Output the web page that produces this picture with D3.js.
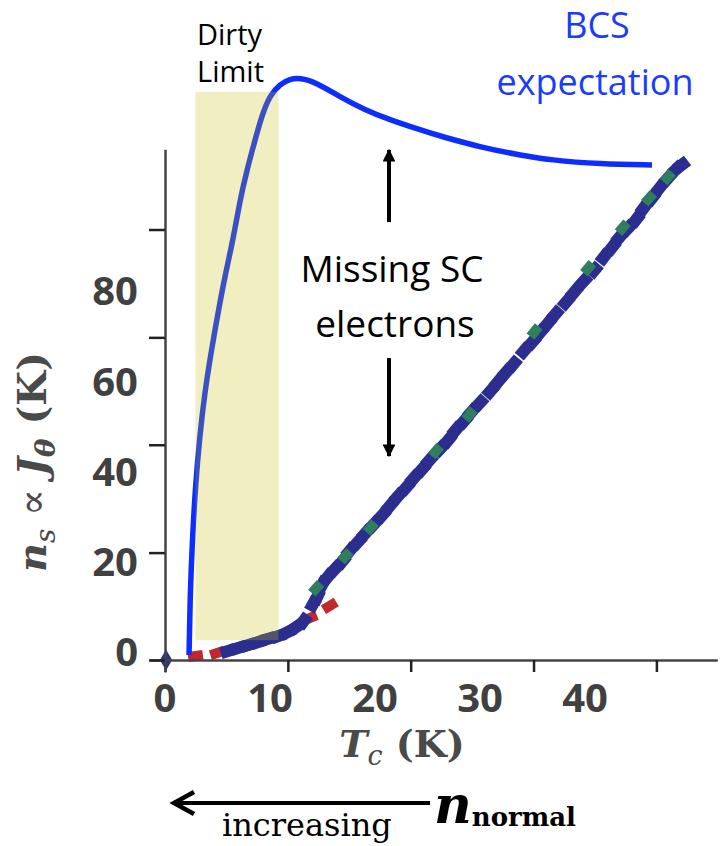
<!DOCTYPE html>
<html>
<head>
<meta charset="UTF-8">
<title>Superfluid density vs Tc</title>
<script src="https://d3js.org/d3.v7.min.js"></script>
<style>
  body { margin: 0; background: #fff; }
  svg { display: block; }
</style>
</head>
<body>
<div id="chart"></div>
<script>
// tick labels (overlay) and the original plot's unlabelled tick marks
const xLabels = [0, 10, 20, 30, 40];
const yLabels = [0, 20, 40, 60, 80];
const xTickMarks = [0, 11.7, 23.4, 35.1, 46.8];
const yTickMarks = [0, 23.8, 47.7, 71.5, 95.4];

// measured data, Tc (K) and ns (K)
const blueTc = [0.1, 6.0, 7.0, 7.9, 8.9, 9.8, 10.8, 11.7, 12.5, 13.2, 14.1, 14.5, 15.0, 15.5, 16.2, 16.9, 17.6, 18.4, 19.1, 19.9,
  20.7, 21.4, 22.2, 23.0, 23.7, 24.5, 25.2, 26.2, 27.0, 27.7, 28.5, 29.2, 30.0, 31.0, 31.7, 32.5, 33.2, 34.2, 35.0, 35.7,
  36.5, 37.2, 38.2, 39.0, 39.9, 40.9, 41.8, 42.6, 43.3, 44.1, 44.9, 45.6, 46.4, 47.1, 47.9, 48.7, 49.2];
const blueNs = [0, 2.0, 2.7, 3.3, 4.0, 4.7, 5.3, 6.2, 7.3, 8.6, 12.4, 14.0, 16.8, 18.4, 20.2, 21.9, 24.2, 26.2, 28.1, 30.1,
  32.1, 34.1, 36.3, 38.3, 40.3, 42.3, 44.3, 46.8, 48.8, 51.0, 53.0, 55.0, 57.0, 59.6, 61.6, 63.8, 65.6, 68.5, 70.5, 72.5,
  74.7, 76.7, 79.3, 81.6, 84.0, 86.4, 89.3, 91.5, 93.7, 95.7, 97.7, 100.2, 102.4, 104.6, 106.8, 108.8, 109.7];
const greenTc = [14.4, 17.2, 19.6, 25.8, 29.0, 35.2, 40.3, 43.6, 46.1, 47.9];
const greenNs = [15.9, 23.0, 29.4, 46.3, 54.4, 72.8, 86.8, 95.8, 102.3, 107.0];
const redTc = [2.9, 5.0, 13.8, 15.7];
const redNs = [0.9, 1.6, 9.3, 12.0];

// BCS expectation curve
const bcsTc = [2.29, 2.38, 2.6, 2.9, 3.3, 3.8, 4.4, 5.0, 5.7, 6.48, 7.14, 7.81, 8.57, 9.24, 10.0, 10.95, 11.9, 12.86,
  14.29, 16.67, 19.05, 21.43, 24.29, 26.19, 30.29, 33.81, 36.67, 41.43, 46.38];
const bcsNs = [1.1, 13.3, 26.6, 38.5, 49.5, 59.5, 68.3, 76.3, 85.0, 93.1, 101.9, 108.6, 115.2, 120.8, 125.2, 127.6, 128.8, 129.0,
  128.1, 124.8, 121.9, 119.7, 117.5, 116.1, 113.5, 111.9, 110.8, 109.9, 109.7];

// dirty limit band
const dirtyTc = [2.9, 10.8];
const dirtyNs = [4.4, 125.9];

const W = 724, H = 846;
const svg = d3.select('#chart').append('svg').attr('width', W).attr('height', H);

const x = d3.scaleLinear().domain([0, 40]).range([165, 585]);
const y = d3.scaleLinear().domain([0, 80]).range([660, 299]);

const gray = '#444';

// data markers
function drawSeries(tc, ns, color, w, h) {
  const pts = tc.map((t, i) => [x(t), y(ns[i])]);
  svg.append('g').selectAll('rect').data(pts).join('rect')
    .attr('x', -w / 2).attr('y', -h / 2).attr('width', w).attr('height', h)
    .attr('fill', color)
    .attr('transform', (p, i) => {
      const a = pts[Math.max(i - 1, 0)], b = pts[Math.min(i + 1, pts.length - 1)];
      const ang = Math.atan2(b[1] - a[1], b[0] - a[0]) * 180 / Math.PI;
      return `translate(${p[0]},${p[1]}) rotate(${ang})`;
    });
}
drawSeries(redTc, redNs, '#c0282c', 15, 10);
drawSeries(blueTc.slice(1), blueNs.slice(1), '#2b2e8e', 15, 12);
drawSeries(greenTc, greenNs, '#2f7f5f', 13, 10);

// origin marker
svg.append('path')
  .attr('d', d3.symbol(d3.symbolDiamond, 130)())
  .attr('transform', `translate(${x(blueTc[0])},${y(blueNs[0])})`)
  .attr('fill', '#2b2e8e');

// BCS curve
const line = d3.line().x(d => x(d[0])).y(d => y(d[1])).curve(d3.curveBasis);
svg.append('path')
  .datum(bcsTc.map((t, i) => [t, bcsNs[i]]))
  .attr('d', line)
  .attr('fill', 'none')
  .attr('stroke', '#0d2dff')
  .attr('stroke-width', 5.5);

// dirty limit band, translucent over data and curve
svg.append('rect')
  .attr('x', x(dirtyTc[0])).attr('width', x(dirtyTc[1]) - x(dirtyTc[0]))
  .attr('y', y(dirtyNs[1])).attr('height', y(dirtyNs[0]) - y(dirtyNs[1]))
  .attr('fill', 'rgb(200,192,6)').attr('opacity', 0.25);

// axes: frame lines with the plot's own tick marks
const xFrame = x.copy().domain([-1.43, 52.6]);
xFrame.range(xFrame.domain().map(x));
const yFrame = y.copy().domain([-2.66, 113.2]);
yFrame.range(yFrame.domain().map(y));

const gx = svg.append('g').attr('transform', `translate(0,${y(0)})`)
  .call(d3.axisBottom(xFrame).tickValues(xTickMarks).tickFormat('').tickSize(12).tickSizeOuter(0));
const gy = svg.append('g').attr('transform', `translate(${x(0)},0)`)
  .call(d3.axisLeft(yFrame).tickValues(yTickMarks).tickFormat('').tickSize(16).tickSizeOuter(0));
[gx, gy].forEach(g => {
  g.select('.domain').attr('stroke', gray).attr('stroke-width', 2.5);
  g.selectAll('.tick line').attr('stroke', '#222').attr('stroke-width', 2.5);
});

// tick labels overlay
svg.append('g').selectAll('text').data(xLabels).join('text')
  .attr('x', d => x(d)).attr('y', 712)
  .attr('text-anchor', 'middle')
  .attr('font-family', 'Open Sans, sans-serif').attr('font-weight', 'bold').attr('font-size', 40)
  .attr('fill', '#404040')
  .text(d => d);
svg.append('g').selectAll('text').data(yLabels).join('text')
  .attr('x', 138).attr('y', d => y(d) - 8)
  .attr('dy', '0.36em')
  .attr('text-anchor', 'end')
  .attr('font-family', 'Open Sans, sans-serif').attr('font-weight', 'bold').attr('font-size', 40)
  .attr('fill', '#404040')
  .text(d => d);

// axis titles
const serif = 'DejaVu Serif, serif';
const yt = svg.append('text')
  .attr('transform', 'translate(46,462) rotate(-90)')
  .attr('text-anchor', 'middle')
  .attr('font-family', serif).attr('font-size', 40).attr('fill', '#4a4a4a');
yt.append('tspan').attr('font-weight', 'bold').attr('font-style', 'italic').text('n');
yt.append('tspan').attr('font-style', 'italic').attr('font-size', 28).attr('dy', 9).text('s');
yt.append('tspan').attr('dy', -9).text(' ∝ ');
yt.append('tspan').attr('font-weight', 'bold').attr('font-style', 'italic').text('J');
yt.append('tspan').attr('font-weight', 'bold').attr('font-style', 'italic').attr('font-size', 28).attr('dy', 9).text('θ');
yt.append('tspan').attr('font-weight', 'bold').attr('dy', -9).text(' (K)');

const xt = svg.append('text')
  .attr('x', 402).attr('y', 757)
  .attr('text-anchor', 'middle')
  .attr('font-family', serif).attr('font-size', 38).attr('fill', '#4a4a4a');
xt.append('tspan').attr('font-weight', 'bold').attr('font-style', 'italic').text('T');
xt.append('tspan').attr('font-style', 'italic').attr('font-size', 27).attr('dy', 8).text('c');
xt.append('tspan').attr('font-weight', 'bold').attr('dy', -8).text(' (K)');

// annotations
const sans = 'Open Sans, sans-serif';
const dl = svg.append('text').attr('font-family', sans).attr('font-size', 29).attr('fill', '#000');
dl.append('tspan').attr('x', 197).attr('y', 45).text('Dirty');
dl.append('tspan').attr('x', 197).attr('y', 82).text('Limit');

const bcs = svg.append('text').attr('font-family', sans).attr('font-size', 36).attr('fill', '#1a3cff')
  .attr('text-anchor', 'middle');
bcs.append('tspan').attr('x', 597).attr('y', 38).text('BCS');
bcs.append('tspan').attr('x', 595).attr('y', 95).text('expectation');

svg.append('rect').attr('x', 295).attr('y', 238).attr('width', 217).attr('height', 119).attr('fill', '#fff');
const ms = svg.append('text').attr('font-family', sans).attr('font-size', 37).attr('fill', '#000')
  .attr('text-anchor', 'middle');
ms.append('tspan').attr('x', 392).attr('y', 282).text('Missing SC');
ms.append('tspan').attr('x', 395).attr('y', 337).text('electrons');

const defs = svg.append('defs');
defs.append('marker').attr('id', 'tri').attr('viewBox', '0 0 10 10')
  .attr('refX', 9).attr('refY', 5).attr('markerWidth', 3.2).attr('markerHeight', 3.2)
  .attr('markerUnits', 'strokeWidth').attr('orient', 'auto')
  .append('path').attr('d', 'M0,0L10,5L0,10Z').attr('fill', '#000');

svg.append('line').attr('x1', 389).attr('y1', 222).attr('x2', 389).attr('y2', 150)
  .attr('stroke', '#000').attr('stroke-width', 4).attr('marker-end', 'url(#tri)');
svg.append('line').attr('x1', 389).attr('y1', 358).attr('x2', 389).attr('y2', 456)
  .attr('stroke', '#000').attr('stroke-width', 4).attr('marker-end', 'url(#tri)');

// bottom arrow: increasing n_normal
svg.append('line').attr('x1', 430).attr('y1', 803).attr('x2', 176).attr('y2', 803)
  .attr('stroke', '#000').attr('stroke-width', 4);
svg.append('path').attr('d', 'M194,792 L174,803 L194,814')
  .attr('fill', 'none').attr('stroke', '#000').attr('stroke-width', 4.5)
  .attr('stroke-linejoin', 'miter');
svg.append('text').attr('x', 222).attr('y', 836)
  .attr('font-family', serif).attr('font-size', 32).attr('fill', '#000')
  .text('increasing');
const nn = svg.append('text').attr('x', 434).attr('y', 823)
  .attr('font-family', serif).attr('fill', '#000');
nn.append('tspan').attr('font-weight', 'bold').attr('font-style', 'italic').attr('font-size', 52).text('n');
nn.append('tspan').attr('font-weight', 'bold').attr('font-size', 26).attr('dy', 3).text('normal');
</script>
</body>
</html>
